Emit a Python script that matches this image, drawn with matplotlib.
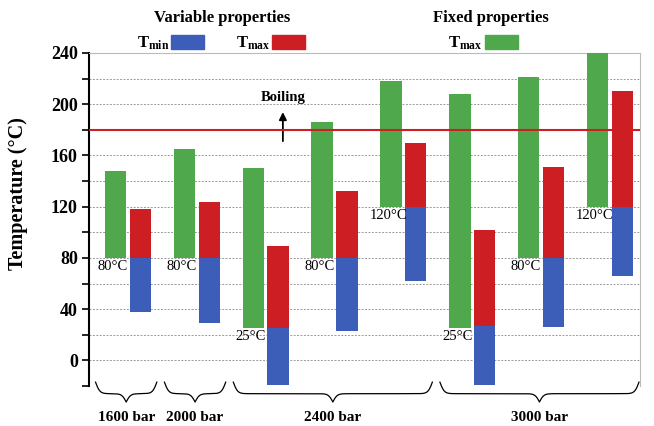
import numpy as np
import matplotlib
matplotlib.use("Agg")
from matplotlib import pyplot as plt
from matplotlib.patches import Rectangle
from matplotlib.ticker import MultipleLocator

plt.rcParams['font.family'] = ['Liberation Serif', 'DejaVu Serif']
plt.rcParams['mathtext.fontset'] = 'custom'
plt.rcParams['mathtext.rm'] = 'Liberation Serif'
plt.rcParams['mathtext.bf'] = 'Liberation Serif:bold'

# data (degrees C)
pressures = ['1600 bar', '2000 bar', '2400 bar', '3000 bar']
group_of_case = [0, 1, 2, 2, 2, 3, 3, 3]
green_bottom = [80, 80, 25, 80, 120, 25, 80, 120]
green_top = [148, 165, 150, 186, 218, 208, 221, 240]
red_top = [118, 124, 89, 132, 170, 102, 151, 210]
red_bottom = [80, 80, 25, 80, 120, 27, 80, 120]
blue_bottom = [38, 29, -19, 23, 62, -19, 26, 66]
boiling = 180

GREEN = '#50A84C'
RED = '#CC1E23'
BLUE = '#3C5DB8'

fig = plt.figure(figsize=(6.54, 4.26), dpi=100)
ax = fig.add_axes([89/654, 1-386/426, (640-89)/654, (386-53)/426])

x = np.arange(len(green_top))
w = 0.31
off = 0.18
gb = np.array(green_bottom)
ax.bar(x - off, np.array(green_top) - gb, bottom=gb, width=w, color=GREEN, zorder=3)
rb = np.array(red_bottom)
ax.bar(x + off, np.array(red_top) - rb, bottom=rb, width=w, color=RED, zorder=3)
bb = np.array(blue_bottom)
ax.bar(x + off, rb - bb, bottom=bb, width=w, color=BLUE, zorder=3)

for xi, v in zip(x, green_bottom):
    ax.text(xi - off - 0.04, v - 1.5, f'{v}°C', ha='center', va='top', fontsize=10.5, zorder=4)

ax.axhline(boiling, color='#CC1E23', lw=1.5, zorder=4)
ax.annotate('', xy=(2.25, 196), xytext=(2.25, 169),
            arrowprops=dict(arrowstyle='-|>', color='black', lw=1.3, mutation_scale=11))
ax.text(2.25, 205, 'Boiling', ha='center', va='center', fontsize=10.5, fontweight='bold')

ax.set_xlim(-0.565, 7.435)
ax.set_ylim(-20, 240)
ax.set_xticks([])
ax.yaxis.set_major_locator(MultipleLocator(40))
ax.yaxis.set_minor_locator(MultipleLocator(20))
ax.tick_params(axis='y', which='both', direction='out', length=5, width=1.2, pad=3)
for lab in ax.get_yticklabels():
    lab.set_fontsize(13)
    lab.set_fontweight('bold')
ax.yaxis.grid(True, which='both', linestyle=(0, (2, 1.5)), color='#9A9A9A', lw=0.7, zorder=0)
ax.spines['left'].set_linewidth(1.5)
ax.spines['bottom'].set_visible(False)
ax.spines['top'].set_color('#BBBBBB')
ax.spines['right'].set_color('#BBBBBB')
ax.spines['top'].set_linewidth(0.8)
ax.spines['right'].set_linewidth(0.8)

ax.set_ylabel('Temperature (°C)', fontsize=14.5, fontweight='bold')
ax.yaxis.set_label_coords(-0.111, 0.578)


def brace(ax, x0, x1, ytop, end_h, mid_h, beta=32.0):
    n = int((x1 - x0) * 200) * 2 + 1
    xs = np.linspace(x0, x1, n)
    xh = xs[:n // 2 + 1]
    s_end = 2 / (1 + np.exp(-beta*(xh - xh[0]))) - 1
    s_mid = 2 / (1 + np.exp(-beta*(xh - xh[-1])))
    yh = ytop - end_h * s_end - mid_h * s_mid
    ys = np.concatenate((yh, yh[-2::-1]))
    ax.plot(xs, ys, color='black', lw=0.9, clip_on=False)


for g, name in enumerate(pressures):
    members = [i for i, gg in enumerate(group_of_case) if gg == g]
    left = members[0] - 0.47
    right = members[-1] + 0.42
    brace(ax, left, right, -17, 9.0, 6.5)
    ax.text((left + right) / 2, -44.5, name, ha='center', va='center',
            fontsize=11, fontweight='bold', clip_on=False)

# headings and legend keys
fig.text(222/654, 1-18/426, 'Variable properties', ha='center', va='center', fontsize=12, fontweight='bold')
fig.text(491/654, 1-18/426, 'Fixed properties', ha='center', va='center', fontsize=12, fontweight='bold')
keys = [(r'$\mathbf{T_{min}}$', 153, 171, BLUE),
        (r'$\mathbf{T_{max}}$', 253, 272, RED),
        (r'$\mathbf{T_{max}}$', 465, 485, GREEN)]
for txt, tx, rx, col in keys:
    fig.text(tx/654, 1-43/426, txt, ha='center', va='center', fontsize=12)
    fig.patches.append(Rectangle((rx/654, 1-49/426), 33/654, 14/426,
                                 transform=fig.transFigure, color=col, figure=fig))

fig.savefig('out.png', dpi=100)
